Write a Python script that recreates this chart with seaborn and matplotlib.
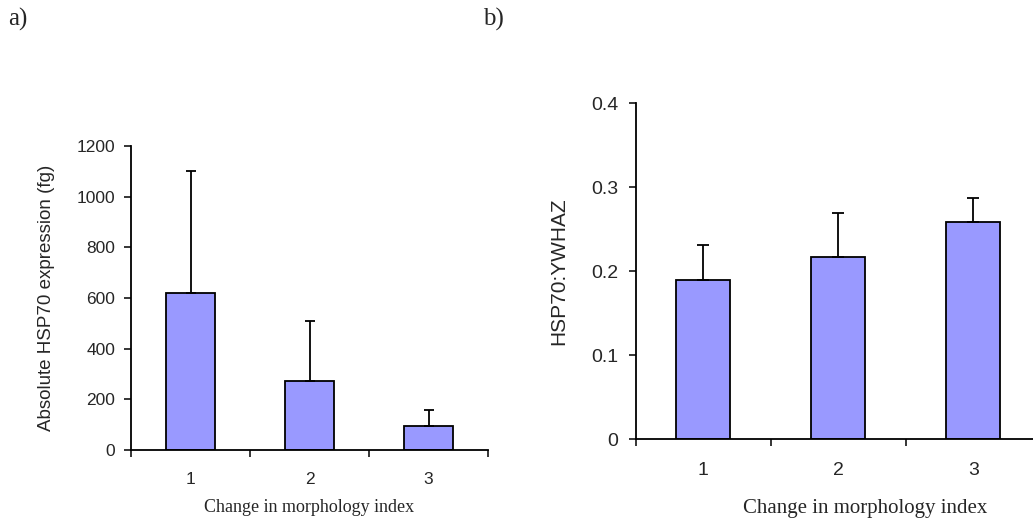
import numpy as np
import pandas as pd
import matplotlib
matplotlib.use("Agg")
import matplotlib.pyplot as plt
import seaborn as sns

# data
categories = ["1", "2", "3"]
abs_expr = [620, 273, 95]
abs_err = [482, 237, 63]
ratio = [0.19, 0.217, 0.258]
ratio_err = [0.041, 0.052, 0.029]

bar_color = "#9999FF"

sns.set_style("ticks")
plt.rcParams["font.family"] = ["Liberation Sans", "DejaVu Sans"]

fig = plt.figure(figsize=(10.33, 5.22), dpi=100)
ax1 = fig.add_axes([131 / 1033, 72 / 522, 357 / 1033, 304 / 522])
ax2 = fig.add_axes([635.7 / 1033, 83 / 522, 405 / 1033, 335.7 / 522])


def draw_panel(ax, vals, errs, width, capsize, ylim, yticks, ylabel, ylab_x,
               xlab_x, xlab_y, xpad, ypad, tick_fs, ylab_fs, xlab_fs):
    df = pd.DataFrame({"cat": categories, "val": vals})
    sns.barplot(data=df, x="cat", y="val", color=bar_color, saturation=1,
                edgecolor="black", linewidth=1.3, width=width, errorbar=None, ax=ax)
    x = np.arange(len(categories))
    # only the upper half of the error bar is shown
    ax.errorbar(x, vals, yerr=[np.zeros(len(errs)), errs], fmt="none",
                ecolor="black", elinewidth=1.3, capsize=capsize, capthick=1.3, zorder=1)
    ax.set_xlim(-0.5, len(categories) - 0.5)
    ax.set_ylim(*ylim)
    ax.set_yticks(yticks)
    sns.despine(ax=ax)
    for s in ["left", "bottom"]:
        ax.spines[s].set_linewidth(1.3)
        ax.spines[s].set_color("black")
    # tick marks sit between categories, labels at centres
    ax.set_xticks(np.arange(-0.5, len(categories)), minor=True)
    ax.tick_params(axis="x", which="major", length=0, pad=xpad, labelsize=tick_fs)
    ax.tick_params(axis="x", which="minor", length=5, width=1.3, direction="out")
    ax.tick_params(axis="y", length=5, width=1.3, pad=ypad, labelsize=tick_fs)
    ax.set_ylabel(ylabel, fontsize=ylab_fs)
    ax.yaxis.set_label_coords(ylab_x, 0.5)
    ax.set_xlabel("Change in morphology index", family=["Liberation Serif"], fontsize=xlab_fs)
    ax.xaxis.set_label_coords(xlab_x, xlab_y)
    ax.xaxis.label.set_va("center")


draw_panel(ax1, abs_expr, abs_err, 0.42, 3.6, (0, 1200), [0, 200, 400, 600, 800, 1000, 1200],
           "Absolute HSP70 expression (fg)", -0.214, 0.5, -0.19,
           xpad=15.5, ypad=6.5, tick_fs=12.5, ylab_fs=13.5, xlab_fs=13)
draw_panel(ax2, ratio, ratio_err, 0.40, 4.3, (0, 0.4), [0, 0.1, 0.2, 0.3, 0.4],
           "HSP70:YWHAZ", -0.167, 0.566, -0.2085,
           xpad=16.5, ypad=7.7, tick_fs=14, ylab_fs=15, xlab_fs=15)
ax2.set_yticklabels(["0", "0.1", "0.2", "0.3", "0.4"])

fig.text(8 / 1033, 1 - 19.5 / 522, "a)", family=["Liberation Serif"], fontsize=18, va="center")
fig.text(483 / 1033, 1 - 19.5 / 522, "b)", family=["Liberation Serif"], fontsize=18, va="center")

fig.savefig("out.png", dpi=100)
